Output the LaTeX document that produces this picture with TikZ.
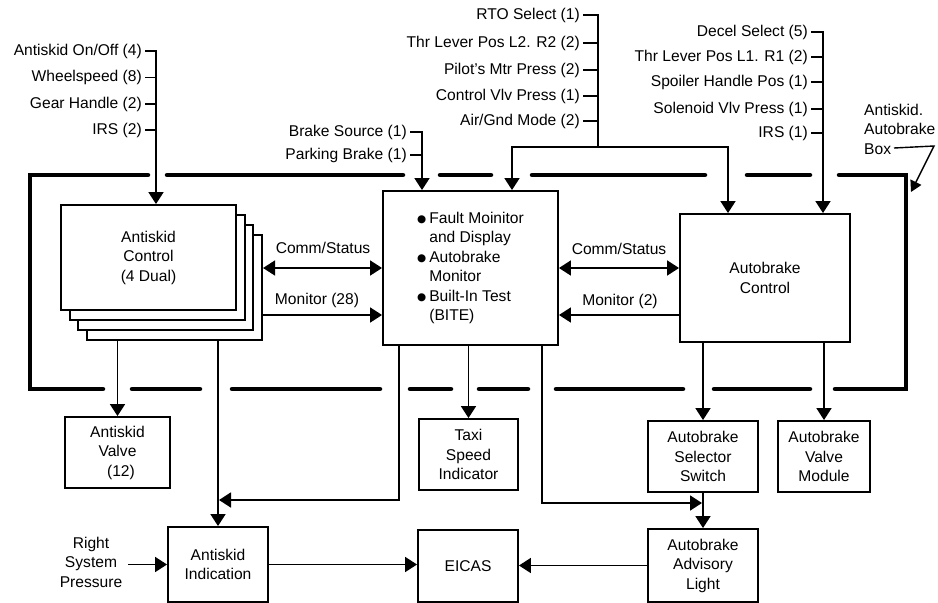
\documentclass[tikz,border=0pt]{standalone}
\usepackage{fontspec}
\setmainfont{Liberation Sans}
\newfontfamily\symfont{DejaVu Sans}
\usetikzlibrary{arrows.meta}
\newcommand\mybul{\raisebox{0.5pt}{\symfont\fontsize{10.5}{10.5}\selectfont ●}}
\begin{document}
\begin{tikzpicture}[x=1pt,y=-1pt,
  font=\fontsize{15.6}{19.5}\selectfont,
  box/.style={draw, line width=1.9pt, fill=white, align=center, inner sep=0pt},
  arr/.style={line width=1.8pt, -{Triangle[length=12pt,width=15pt]}},
  dbl/.style={line width=1.8pt, {Triangle[length=12pt,width=15pt]}-{Triangle[length=12pt,width=15pt]}},
  ln/.style={line width=1.8pt},
  tk/.style={line width=1.5pt},
  frame/.style={line width=4.5pt, line cap=round},
  lbl/.style={anchor=east, inner xsep=3pt, inner ysep=0pt},
  txt/.style={inner sep=0pt, align=center},
]
\useasboundingbox (0,0) rectangle (938,603);

% ---------- dashed Antiskid/Autobrake box ----------
\draw[frame] (148,175) -- (30,175) -- (30,389) -- (103,389);
\draw[frame] (167,175) -- (403,175);
\draw[frame] (440,175) -- (491,175);
\draw[frame] (532,175) -- (705,175);
\draw[frame] (747,175) -- (810,175);
\draw[frame] (839,175) -- (906,175) -- (906,389) -- (835,389);
\draw[frame] (132,389) -- (200,389);
\draw[frame] (232,389) -- (380,389);
\draw[frame] (410,389) -- (451,389);
\draw[frame] (479,389) -- (528,389);
\draw[frame] (556,389) -- (683,389);
\draw[frame] (714,389) -- (810,389);

% ---------- boxes ----------
\foreach \i in {3,2,1}
  \node[box, minimum width=175pt, minimum height=105pt] (asc\i) at (148.5+8.7*\i, 257.5+10*\i) {};
\node[box, minimum width=175pt, minimum height=105pt] (asc) at (148.5,257.5) {Antiskid\\Control\\(4 Dual)};

\node[box, minimum width=175pt, minimum height=154pt] (cb) at (470.5,268) {%
  \begin{tabular}{@{}c@{\hspace{3pt}}l@{}}
  \mybul & Fault Moinitor\\
         & and Display\\
  \mybul & Autobrake\\
         & Monitor\\
  \mybul & Built-In Test\\
         & (BITE)
  \end{tabular}};

\node[box, minimum width=170pt, minimum height=128pt] (ac) at (765,278) {Autobrake\\Control};

\node[box, minimum width=105pt, minimum height=71pt] (av) at (117.5,452.5) {Antiskid\\Valve\\\ \,(12)};
\node[box, minimum width=99pt, minimum height=71pt] (ts) at (468.5,454.5) {Taxi\\Speed\\Indicator};
\node[box, minimum width=110pt, minimum height=71pt] (ss) at (703,456.5) {Autobrake\\Selector\\Switch};
\node[box, minimum width=92pt, minimum height=71pt] (vm) at (824,456.5) {Autobrake\\Valve\\Module};
\node[box, minimum width=100pt, minimum height=75pt] (ai) at (218,564.5) {Antiskid\\Indication};
\node[box, minimum width=100pt, minimum height=72pt] (eicas) at (468,566) {EICAS};
\node[box, minimum width=110pt, minimum height=73pt] (al) at (703,565.5) {Autobrake\\Advisory\\Light};

% ---------- left inputs ----------
\node[lbl] (l1) at (145,51) {Antiskid On/Off (4)};
\node[lbl] (l2) at (145,77.5) {Wheelspeed (8)};
\node[lbl] (l3) at (145,104) {Gear Handle (2)};
\node[lbl] (l4) at (145,130) {IRS (2)};
\coordinate (lv) at (156,51);
\draw[arr] (l1.east) -| (asc.north -| lv);
\draw[tk] (l2.east) -- (l2.east -| lv);
\draw[tk] (l3.east) -- (l3.east -| lv);
\draw[tk] (l4.east) -- (l4.east -| lv);

% ---------- brake inputs ----------
\node[lbl] (b1) at (410,132) {Brake Source (1)};
\node[lbl] (b2) at (410,155) {Parking Brake (1)};
\coordinate (bv) at (422,132);
\draw[arr] (b1.east) -| (cb.north -| bv);
\draw[tk] (b2.east) -- (b2.east -| bv);

% ---------- middle inputs ----------
\node[lbl] (m1) at (583,15) {RTO Select (1)};
\node[lbl] (m2) at (583,43) {Thr Lever Pos L2. R2 (2)};
\node[lbl] (m3) at (583,70) {Pilot's Mtr Press (2)};
\node[lbl] (m4) at (583,96) {Control Vlv Press (1)};
\node[lbl] (m5) at (583,121) {Air/Gnd Mode (2)};
\coordinate (mv) at (598,147);
\coordinate (mh1) at (512,147);
\coordinate (mh2) at (728,147);
\draw[ln] (m1.east) -| (mv);
\foreach \n in {m2,m3,m4,m5} \draw[tk] (\n.east) -- (\n.east -| mv);
\draw[arr] (mv) -| (cb.north -| mh1);
\draw[arr] (mv) -| (ac.north -| mh2);

% ---------- right inputs ----------
\node[lbl] (r1) at (811,32) {Decel Select (5)};
\node[lbl] (r2) at (811,57) {Thr Lever Pos L1. R1 (2)};
\node[lbl] (r3) at (811,82) {Spoiler Handle Pos (1)};
\node[lbl] (r4) at (811,109) {Solenoid Vlv Press (1)};
\node[lbl] (r5) at (811,133) {IRS (1)};
\coordinate (rv) at (823,32);
\draw[arr] (r1.east) -| (ac.north -| rv);
\foreach \n in {r2,r3,r4,r5} \draw[tk] (\n.east) -- (\n.east -| rv);

% ---------- box label ----------
\node[anchor=west, align=left, inner sep=0pt] (abx) at (864,129) {Antiskid.\\Autobrake\\Box};
\coordinate (bxs) at (894,148);
\coordinate (bxk) at (934,146);
\coordinate (bxt) at (911,192);
\draw[line width=1.4pt, -{Triangle[length=11pt,width=12pt]}] (bxs) -- (bxk) -- (bxt);

% ---------- internal links ----------
\coordinate (csy) at (0,268);
\coordinate (mly) at (0,315);
\draw[dbl] (asc3.east |- csy) -- (cb.west |- csy);
\draw[arr] (asc3.east |- mly) -- (cb.west |- mly);
\node[txt] (cs1) at (323,248) {Comm/Status};
\node[txt] (mo1) at (317,300) {Monitor (28)};
\draw[dbl] (cb.east |- csy) -- (ac.west |- csy);
\draw[arr] (ac.west |- mly) -- (cb.east |- mly);
\node[txt] (cs2) at (619,249) {Comm/Status};
\node[txt] (mo2) at (620,301) {Monitor (2)};

% ---------- outputs ----------
\draw[arr] (asc3.south -| av.north) -- (av.north);
\draw[arr] (asc3.south -| ai.north) -- (ai.north);
\draw[arr] (cb.south -| ts.north) -- (ts.north);
\coordinate (cl) at (399,500);
\draw[arr] (cb.south -| cl) -- (cl) -- ([xshift=1pt]cl -| ai.north);
\coordinate (cr) at (542,503);
\draw[arr] (cb.south -| cr) -- (cr) -- ([xshift=-1pt]cr -| ss.south);
\draw[arr] (ac.south -| ss.north) -- (ss.north);
\draw[arr] (ac.south -| vm.north) -- (vm.north);
\draw[arr] (ss.south) -- (al.north);

% ---------- bottom row ----------
\node[txt, inner xsep=6pt] (rsp) at (91,562) {Right\\System\\Pressure};
\draw[arr] (rsp.east |- ai.west) -- (ai.west);
\draw[arr] (ai.east) -- (eicas.west |- ai.east);
\draw[arr] (al.west) -- (eicas.east |- al.west);
\end{tikzpicture}
\end{document}
